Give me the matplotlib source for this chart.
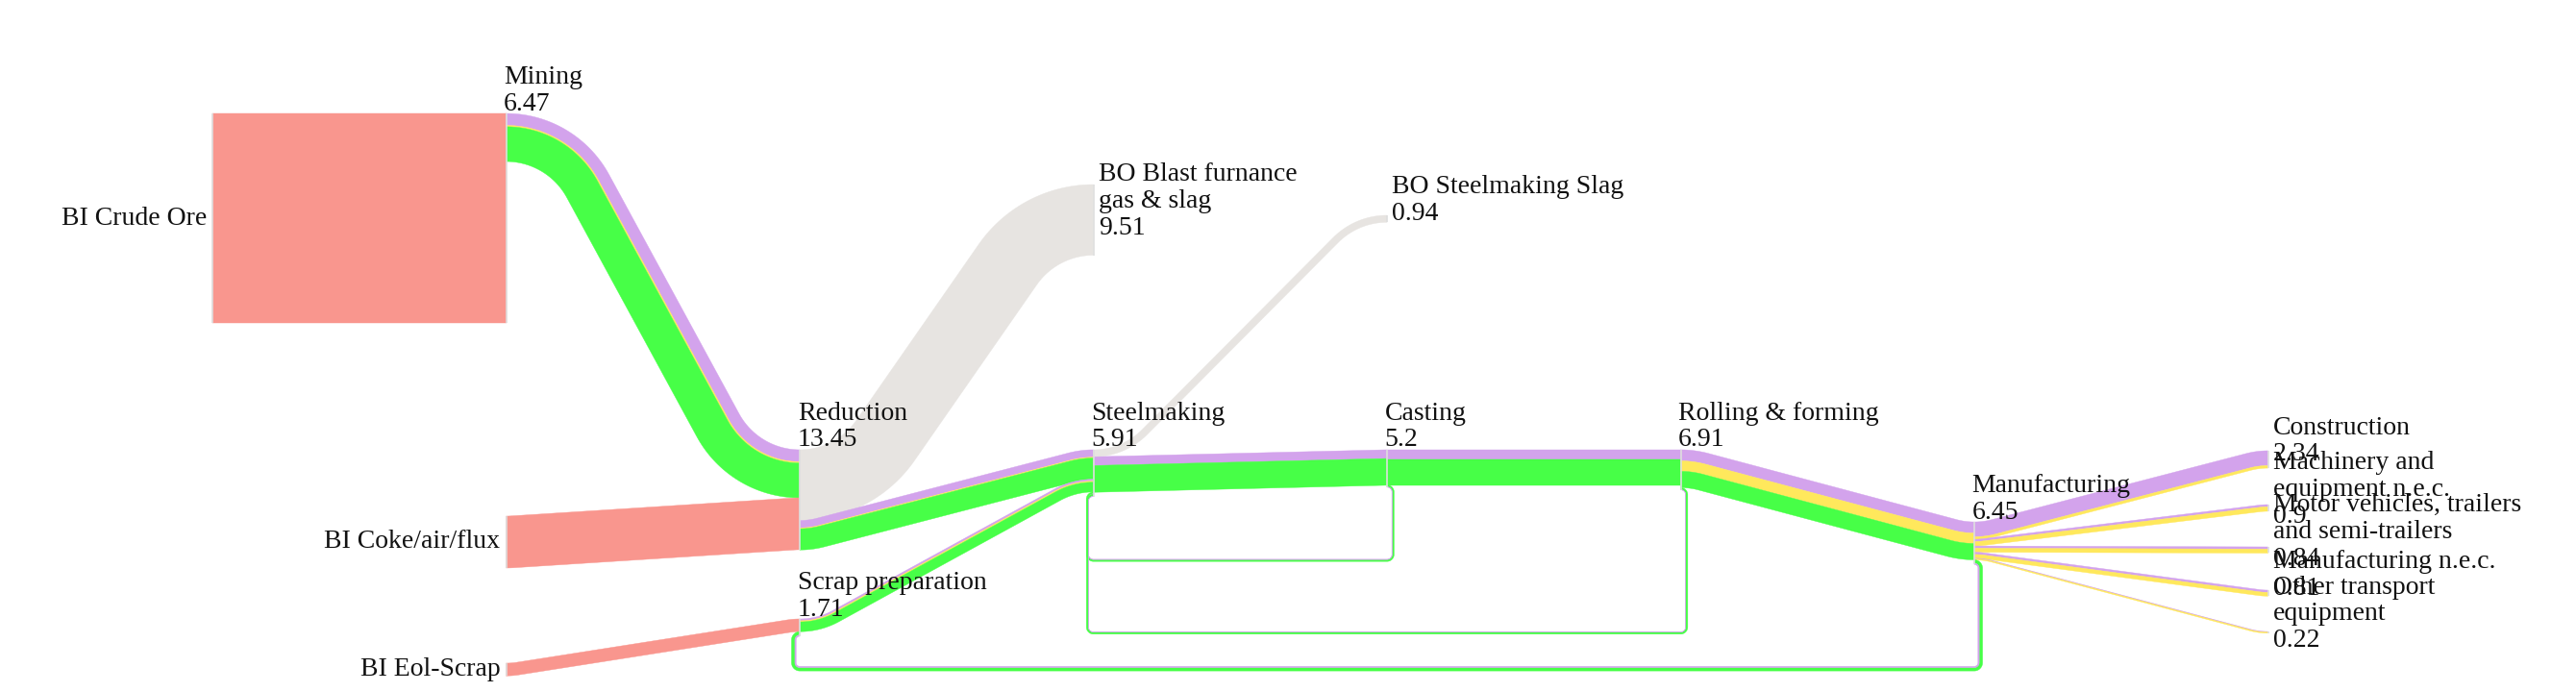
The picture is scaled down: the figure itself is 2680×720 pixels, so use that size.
import numpy as np
import matplotlib
matplotlib.use("Agg")
import matplotlib.pyplot as plt
from matplotlib.patches import Polygon

plt.rcParams['font.family'] = ['Liberation Serif', 'DejaVu Serif']

# %% data
nodes = ["crude", "coke", "eol", "mining", "reduction", "scrap", "bo_bf", "steel",
         "bo_slag", "casting", "rolling", "manuf", "constr", "mach", "motor", "mnec", "other"]
node_titles = {
    "crude": "BI Crude Ore", "coke": "BI Coke/air/flux", "eol": "BI Eol-Scrap",
    "mining": "Mining", "reduction": "Reduction", "scrap": "Scrap preparation",
    "bo_bf": "BO Blast furnance\ngas & slag", "steel": "Steelmaking",
    "bo_slag": "BO Steelmaking Slag", "casting": "Casting", "rolling": "Rolling & forming",
    "manuf": "Manufacturing", "constr": "Construction", "mach": "Machinery and\nequipment n.e.c.",
    "motor": "Motor vehicles, trailers\nand semi-trailers", "mnec": "Manufacturing n.e.c.",
    "other": "Other transport\nequipment",
}
node_numbers = {
    "mining": "6.47", "reduction": "13.45", "scrap": "1.71", "bo_bf": "9.51", "steel": "5.91",
    "bo_slag": "0.94", "casting": "5.2", "rolling": "6.91", "manuf": "6.45", "constr": "2.34",
    "mach": "0.9", "motor": "0.84", "mnec": "0.81", "other": "0.22",
}

link_src = ["crude", "mining", "coke", "eol", "reduction", "reduction", "scrap", "steel",
            "steel", "casting", "rolling", "manuf", "manuf", "manuf", "manuf", "manuf",
            "casting", "rolling", "manuf"]
link_dst = ["mining", "reduction", "reduction", "scrap", "bo_bf", "steel", "steel", "bo_slag",
            "casting", "rolling", "manuf", "constr", "mach", "motor", "mnec", "other",
            "steel", "steel", "scrap"]
v_input = [28.2, 0, 6.98, 1.71, 0, 0, 0, 0, 0, 0, 0, 0, 0, 0, 0, 0, 0, 0, 0]
v_loss = [0, 0, 0, 0, 9.51, 0, 0, 0.94, 0, 0, 0, 0, 0, 0, 0, 0, 0, 0, 0]
v_purple = [0, 1.61, 0, 0, 0, 1.0, 0.25, 0, 1.18, 1.29, 1.5, 2.0, 0.3, 0.3, 0.3, 0.08, 0.05, 0.03, 0.17]
v_yellow = [0, 0.18, 0, 0, 0, 0.12, 0.15, 0, 0, 0, 1.4, 0.34, 0.6, 0.54, 0.51, 0.14, 0, 0, 0]
v_green = [0, 4.68, 0, 0, 0, 2.85, 1.31, 0, 3.6, 3.45, 2.2, 0, 0, 0, 0, 0, 0.25, 0.27, 0.45]

colors = {"input": "#f9968e", "loss": "#e7e4e1", "purple": "#d3a3ec",
          "yellow": "#ffe85c", "green": "#47ff47"}

# %% layout (flow units; 1 unit = PX pixels)
PX = 7.73
X0, COL_W = 28.6, 39.52
node_col = {"crude": 0, "coke": 1, "eol": 1, "mining": 1, "reduction": 2, "scrap": 2,
            "bo_bf": 3, "steel": 3, "bo_slag": 4, "casting": 4, "rolling": 5, "manuf": 6,
            "constr": 7, "mach": 7, "motor": 7, "mnec": 7, "other": 7}
main_line = 60.54
node_top = {"crude": 15.27, "mining": 15.27, "coke": 69.47, "eol": 89.26,
            "reduction": main_line, "scrap": 83.31, "bo_bf": 24.84, "steel": main_line,
            "bo_slag": 28.98, "casting": main_line, "rolling": main_line, "manuf": 70.25,
            "constr": 60.67, "mach": 67.92, "motor": 73.61, "mnec": 79.43, "other": 85.0}
loop_bottom = {("casting", "steel"): 75.42, ("rolling", "steel"): 85.2, ("manuf", "scrap"): 90.0}
BEND = 9.3       # inner bend radius of links
LOOP_R = 0.8     # corner radius of return loops


def arc(p, h0, turn, r, n=40):
    sg = np.sign(turn) if turn != 0 else 1.0
    c = np.asarray(p) + sg * r * np.array([-np.sin(h0), np.cos(h0)])
    hs = h0 + np.linspace(0, turn, n)
    pts = c - sg * r * np.column_stack([-np.sin(hs), np.cos(hs)])
    return pts, hs


def link_path(x0, y0, x1, y1, r):
    dx, dy = x1 - x0, y1 - y0
    if abs(dy) < 1e-6:
        return np.array([[x0, y0], [x1, y1]]), np.zeros(2)
    s, ady = np.sign(dy), abs(dy)
    while True:
        B = ady - 2 * r
        R = np.hypot(dx, B)
        if 2 * r <= R:
            th = np.arctan2(B, dx) + np.arcsin(2 * r / R)
            L = (dx - 2 * r * np.sin(th)) / np.cos(th)
            if L >= 0 and th < np.pi / 2:
                break
        r *= 0.9
    p1, h1 = arc((x0, y0), 0.0, s * th, r)
    start2 = p1[-1] + L * np.array([np.cos(s * th), np.sin(s * th)])
    p2, h2 = arc(start2, s * th, -s * th, r)
    return np.vstack([p1, p2]), np.concatenate([h1, h2])


def loop_path(xs, ys, xt, yt, yb, g):
    parts = []
    p, h = arc((xs, ys), 0.0, np.pi / 2, g)
    parts.append((p, h))
    p, h = arc((xs + g, yb - g), np.pi / 2, np.pi / 2, g)
    parts.append((p, h))
    p, h = arc((xt, yb), np.pi, np.pi / 2, g)
    parts.append((p, h))
    p, h = arc((xt - g, yt + g), 1.5 * np.pi, np.pi / 2, g)
    parts.append((p, h))
    return np.vstack([q[0] for q in parts]), np.concatenate([q[1] for q in parts])


def band(ax, pts, hs, a, b, color):
    nrm = np.column_stack([-np.sin(hs), np.cos(hs)])
    poly = np.vstack([pts + a * nrm, (pts + b * nrm)[::-1]])
    ax.add_patch(Polygon(poly, closed=True, facecolor=color, edgecolor=color, lw=0.3))


# %% totals and stacking
sub_vals = []
for i in range(len(link_src)):
    back = node_col[link_dst[i]] < node_col[link_src[i]]
    if back:
        parts = [("green", v_green[i]), ("purple", v_purple[i]), ("yellow", v_yellow[i])]
    else:
        parts = [("input", v_input[i]), ("loss", v_loss[i]), ("purple", v_purple[i]),
                 ("yellow", v_yellow[i]), ("green", v_green[i])]
    sub_vals.append([(c, v) for c, v in parts if v > 0])

tot_in = {n: 0.0 for n in nodes}
tot_out = {n: 0.0 for n in nodes}
for i, parts in enumerate(sub_vals):
    w = sum(v for _, v in parts)
    tot_out[link_src[i]] += w
    tot_in[link_dst[i]] += w

fig = plt.figure(figsize=(26.8, 7.2), dpi=100)
ax = fig.add_axes([0, 0, 1, 1])
ax.set_xlim(0, 2680 / PX)
ax.set_ylim(720 / PX, 0)
ax.axis("off")

node_x = {n: X0 + COL_W * node_col[n] for n in nodes}
out_cur = dict(node_top)
in_cur = dict(node_top)

for i, parts in enumerate(sub_vals):
    s, t = link_src[i], link_dst[i]
    w = sum(v for _, v in parts)
    ys = out_cur[s] + w / 2
    yt = in_cur[t] + w / 2
    out_cur[s] += w
    in_cur[t] += w
    if node_col[t] < node_col[s]:
        pts, hs = loop_path(node_x[s], ys, node_x[t], yt, loop_bottom[(s, t)], LOOP_R)
    else:
        pts, hs = link_path(node_x[s], ys, node_x[t], yt, w / 2 + BEND)
    off = -w / 2
    for c, v in parts:
        band(ax, pts, hs, off, off + v, colors[c])
        off += v

# node bars
for n in nodes:
    h = max(tot_in[n], tot_out[n])
    ax.plot([node_x[n], node_x[n]], [node_top[n], node_top[n] + h],
            color="#dedede", lw=1.2, solid_capstyle="butt")

# labels
FS = 20
for n in nodes:
    h = max(tot_in[n], tot_out[n])
    label = node_titles[n] + ("\n" + node_numbers[n] if n in node_numbers else "")
    if tot_in[n] == 0:
        ax.text(node_x[n] - 0.8, node_top[n] + h / 2, label, ha="right", va="center",
                fontsize=FS, color="#111111")
    elif tot_out[n] == 0:
        ax.text(node_x[n] + 0.7, node_top[n] + h / 2 - 2.46, label, ha="left", va="center",
                fontsize=FS, color="#111111", linespacing=1.15)
    else:
        ax.text(node_x[n] - 0.3, node_top[n] - 0.45, label, ha="left", va="baseline",
                fontsize=FS, color="#111111", linespacing=1.15)

fig.savefig("out.png", dpi=100, facecolor="white")
